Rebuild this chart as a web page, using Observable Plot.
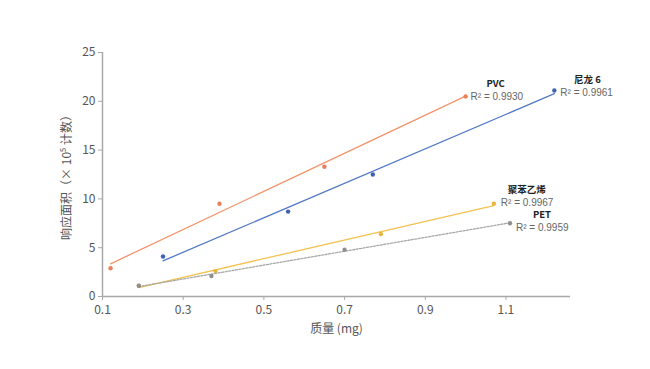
<!DOCTYPE html>
<html>
<head>
<meta charset="utf-8">
<script src="https://cdn.jsdelivr.net/npm/d3@7"></script>
<script src="https://cdn.jsdelivr.net/npm/@observablehq/plot@0.6"></script>
<style>
  html, body { margin: 0; padding: 0; background: #fff; }
  #chart svg { font-family: "Noto Sans CJK SC", "Noto Sans", sans-serif; }
</style>
</head>
<body>
<div id="chart"></div>
<script>
// Data
const seriesNames = ["PVC", "尼龙 6", "聚苯乙烯", "PET"];
const r2Values = ["0.9930", "0.9961", "0.9967", "0.9959"];
const pvcMass = [0.12, 0.39, 0.65, 1.00];
const pvcArea = [2.9, 9.5, 13.3, 20.5];
const nylonMass = [0.25, 0.56, 0.77, 1.22];
const nylonArea = [4.1, 8.7, 12.5, 21.1];
const psMass = [0.19, 0.38, 0.79, 1.07];
const psArea = [1.1, 2.6, 6.4, 9.5];
const petMass = [0.19, 0.37, 0.70, 1.11];
const petArea = [1.1, 2.1, 4.8, 7.5];
const xTicks = [0.1, 0.3, 0.5, 0.7, 0.9, 1.1];
const yTicks = [0, 5, 10, 15, 20, 25];

const masses = [pvcMass, nylonMass, psMass, petMass];
const areas = [pvcArea, nylonArea, psArea, petArea];

// styles
const lineColors = ["#f2946c", "#5279c4", "#f3c24f", "#a8a8a8"];
const dotColors = ["#e9805a", "#3d62b3", "#e8b43c", "#8f8f8f"];
const dashes = [null, null, null, "2,1.5"];
const nameOffset = [[30, -12.5], [33, -11], [33, -13.5], [32, -8.5]];
const r2Offset = [[5, 0.5], [6, 2], [7, -1], [6, 4.5]];

const series = seriesNames.map((name, i) => ({
  name, r2: r2Values[i],
  data: masses[i].map((m, j) => ({mass: m, area: areas[i][j]}))
}));

const marks = [
  Plot.ruleY([0], {stroke: "#a9a9a9", strokeWidth: 1.5}),
  Plot.ruleX([0.1], {y1: 0, y2: 25, stroke: "#a9a9a9", strokeWidth: 1.5}),
  Plot.axisX({ticks: xTicks, tickFormat: d => d.toFixed(1), tickSize: 4, stroke: "#a9a9a9",
    fontSize: 12, color: "#555", label: "质量 (mg)", labelAnchor: "center", labelArrow: "none", labelOffset: 36, tickPadding: 5}),
  Plot.axisY({ticks: yTicks, tickSize: 4, stroke: "#a9a9a9", fontSize: 12, color: "#555",
    label: "响应面积（× 10⁵ 计数）", labelAnchor: "center", labelArrow: "none", labelOffset: 40, tickPadding: 3})
];

series.forEach((s, i) => {
  marks.push(Plot.linearRegressionY(s.data, {x: "mass", y: "area", ci: 0, stroke: lineColors[i], strokeWidth: 1.3,
    strokeDasharray: dashes[i] || undefined}));
  marks.push(Plot.dot(s.data, {x: "mass", y: "area", r: 2.2, fill: dotColors[i]}));
  const last = [s.data[s.data.length - 1]];
  marks.push(Plot.text(last, {x: "mass", y: "area", text: () => s.name, dx: nameOffset[i][0], dy: nameOffset[i][1],
    fontWeight: "bold", fontSize: 9.5, fill: "#222"}));
  marks.push(Plot.text(last, {x: "mass", y: "area", text: () => "R² = " + s.r2, dx: r2Offset[i][0], dy: r2Offset[i][1],
    textAnchor: "start", fontSize: 10, fill: "#666", fontFamily: "Liberation Sans"}));
});

const chart = Plot.plot({
  width: 650,
  height: 369,
  marginLeft: 102,
  marginRight: 80,
  marginTop: 52,
  marginBottom: 73,
  style: {fontFamily: "\"Noto Sans CJK SC\", \"Noto Sans\", sans-serif", background: "#fff", color: "#555"},
  x: {domain: [0.1, 1.26]},
  y: {domain: [0, 25]},
  marks
});
document.getElementById("chart").appendChild(chart);
</script>
</body>
</html>
